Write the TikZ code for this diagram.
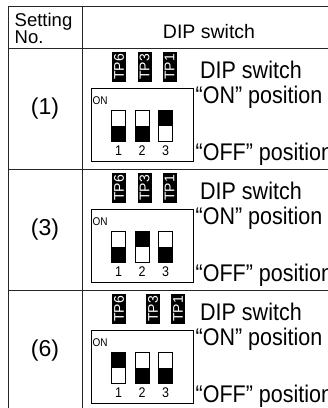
\documentclass[tikz,border=0pt]{standalone}
\usepackage{fontspec}
\setmainfont{Liberation Sans}
\usetikzlibrary{positioning}
\newcommand{\tall}[1]{\scalebox{1}[1.12]{#1}}
\tikzset{
  rule/.style={draw=black!85, line width=0.9pt},
  headtext/.style={inner sep=0pt, font=\fontsize{19.5}{15}\selectfont},
  rowno/.style={inner sep=0pt, font=\fontsize{23}{23}\selectfont},
  sidetext/.style={inner sep=0pt, anchor=base west, font=\fontsize{21.5}{21.5}\selectfont},
  tpbox/.style={fill=black, text=white, minimum width=14pt, minimum height=30pt, inner sep=0pt, font=\fontsize{14}{14}\selectfont},
  dipbox/.style={draw, line width=0.8pt, minimum width=102pt, minimum height=73pt, inner sep=0pt},
  lever/.style={draw, line width=0.8pt, minimum width=14pt, minimum height=31pt, inner sep=0pt},
  smalltext/.style={inner sep=0pt, anchor=base, font=\fontsize{12.5}{12.5}\selectfont}
}
\begin{document}
\begin{tikzpicture}[x=1pt, y=-1pt]
  \useasboundingbox (0,0) rectangle (328,408);
  % table rules
  \draw[rule] (8,6) -- (340,6);
  \draw[rule] (8,48.5) -- (340,48.5);
  \draw[rule] (8,169.5) -- (340,169.5);
  \draw[rule] (8,290.5) -- (340,290.5);
  \draw[rule] (8,6) -- (8,420);
  \draw[rule] (82.5,6) -- (82.5,420);
  % header
  \node[headtext, align=left, font=\fontsize{18.5}{15}\selectfont] (setno) at (43.5,28.5) {Setting\\No.};
  \node[headtext, anchor=base] (diphead) at (209,38) {DIP switch};
  % one row per setting
  \foreach \k/\lab/\sa/\sb/\sc/\tb/\tc in {0/(1)/south east/south east/north east/144.5/169.5,
      1/(3)/south east/north east/south east/144.5/169.5,
      2/(6)/north east/south east/south east/153/178} {
    \pgfmathsetmacro\dy{121*\k}
    \node[rowno] (no\k) at (45,109+\dy) {\lab};
    \node[tpbox] (tpsix\k) at (119,67+\dy) {\rotatebox{90}{TP6}};
    \node[tpbox] (tpthree\k) at (\tb,67+\dy) {\rotatebox{90}{TP3}};
    \node[tpbox] (tpone\k) at (\tc,67+\dy) {\rotatebox{90}{TP1}};
    \node[dipbox] (dip\k) at (142,124.5+\dy) {};
    \node[inner sep=0pt, anchor=base west, font=\fontsize{10}{10}\selectfont] (on\k) at (92.5,104+\dy) {\tall{ON}};
    \node[lever] (swa\k) at (118.5,125.5+\dy) {};
    \node[lever] (swb\k) at (142,125.5+\dy) {};
    \node[lever] (swc\k) at (165.5,125.5+\dy) {};
    \fill (swa\k.west) rectangle (swa\k.\sa);
    \fill (swb\k.west) rectangle (swb\k.\sb);
    \fill (swc\k.west) rectangle (swc\k.\sc);
    \node[smalltext] (numa\k) at (118.5,155+\dy) {\tall{1}};
    \node[smalltext] (numb\k) at (142,155+\dy) {\tall{2}};
    \node[smalltext] (numc\k) at (165.5,155+\dy) {\tall{3}};
    \node[sidetext] (dipt\k) at (200,78+\dy) {\tall{DIP switch}};
    \node[sidetext] (ont\k) at (195.5,103+\dy) {\tall{“ON” position}};
    \node[sidetext] (offt\k) at (195.5,160+\dy) {\tall{“OFF” position}};
  }
\end{tikzpicture}
\end{document}
